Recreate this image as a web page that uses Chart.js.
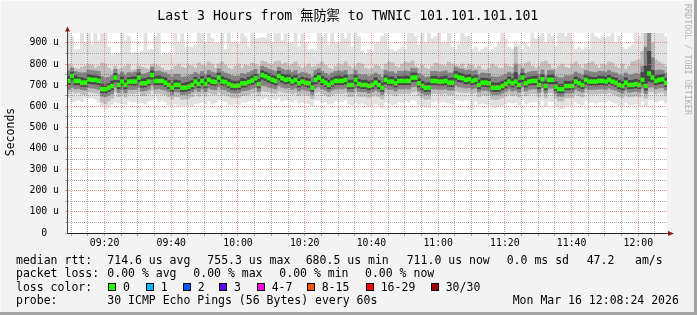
<!DOCTYPE html>
<html>
<head>
<meta charset="utf-8">
<title>SmokePing - Last 3 Hours</title>
<script src="https://cdn.jsdelivr.net/npm/chart.js@4.4.0/dist/chart.umd.min.js"></script>
<style>
  html, body { margin: 0; padding: 0; background: #f3f3f3; }
  canvas { display: block; }
</style>
</head>
<body>
<canvas id="smoke" width="697" height="315"></canvas>
<script>
// one bin per minute, 30 pings each, first bin starts 09:08:45
const firstMinute = 548.75;
const lastMinute = 728.6;

// median rtt per minute (us)
const medianRtt = [
  720,744,720,720,712,712,728,725,725,720, 681,681,688,696,736,701,717,701,717,717,
  717,736,709,709,717,748,720,720,720,712, 701,688,701,701,688,688,693,701,717,705,
  720,705,725,717,715,736,717,715,705,698, 696,698,709,709,715,722,733,705,748,742,
  733,725,720,744,733,725,728,717,725,709, 717,712,709,688,725,736,720,712,701,712,
  720,720,720,725,701,701,725,705,701,701, 696,701,712,701,688,725,717,717,709,720,
  720,720,720,736,736,709,696,688,688,720, 720,717,717,720,712,712,744,736,733,725,
  728,720,725,701,712,712,709,688,688,688, 696,705,717,709,717,701,736,709,717,720,
  720,701,728,696,725,725,693,681,681,696, 696,696,717,709,701,725,717,717,717,720,
  720,717,725,717,712,701,696,712,701,701, 705,701,725,696,755,736,720,725,728,711
];

// smoke: slowest / fastest ping per minute
const smokeMax = [
  947,930,867,870,947,900,947,890,947,910, 947,947,880,843,845,850,947,910,930,851,
  855,851,860,947,867,870,930,947,843,845, 850,843,947,900,947,880,883,880,890,947,
  947,900,947,920,898,900,947,870,947,905, 898,895,947,930,880,947,922,920,925,922,
  947,900,947,947,910,947,898,900,947,880, 947,900,867,870,865,947,930,947,890,947,
  898,900,947,920,947,880,947,930,860,850, 870,860,900,905,930,947,870,867,860,870,
  880,870,947,947,930,890,947,900,947,920, 930,947,900,900,947,880,870,890,947,930,
  930,870,880,860,870,880,860,870,880,900, 947,920,880,870,900,890,870,900,880,947,
  920,930,947,900,947,930,880,947,947,930, 947,910,870,880,867,880,870,947,930,920,
  930,925,930,947,900,930,880,870,880,890, 947,930,947,947,947,947,947,947,947,930
];
const smokeMin = [
  640,620,625,630,622,640,638,640,635,618, 600,585,595,610,620,615,612,608,625,620,
  622,615,618,610,625,630,640,622,628,620, 605,598,612,600,602,604,606,600,612,615,
  620,610,625,612,618,630,628,622,610,605, 612,608,618,620,625,628,630,622,635,640,
  632,636,630,640,625,630,628,620,632,615, 620,615,612,600,628,630,618,620,610,615,
  625,620,622,630,612,605,618,610,615,608, 598,605,612,605,592,620,615,608,610,622,
  618,625,620,630,628,610,600,596,595,620, 625,618,622,620,615,612,630,628,625,630,
  628,585,625,610,615,612,608,598,594,600, 605,612,620,615,618,606,630,612,618,620,
  622,605,628,600,625,622,598,592,588,602, 604,606,620,612,605,625,618,622,615,620,
  622,618,628,620,615,605,600,618,606,608, 612,605,625,600,630,632,620,625,628,615
];

// smoke: outer quarter of the pings
const smokeHigh = [
  800,790,780,775,785,790,800,795,780,790, 805,800,780,770,790,775,780,790,800,770,
  775,790,785,780,775,800,795,790,780,770, 770,775,790,800,785,780,795,790,780,805,
  795,790,810,800,780,800,810,795,780,775, 790,800,780,795,790,805,800,790,815,810,
  800,795,810,815,800,805,790,800,810,790, 780,790,800,785,790,800,810,795,780,775,
  790,800,795,810,790,780,790,805,800,780, 775,780,795,790,775,800,810,805,790,780,
  800,810,805,815,790,780,795,780,775,790, 805,800,795,790,810,800,795,790,800,780,
  800,795,780,790,775,770,780,800,790,780, 780,800,790,785,880,800,790,805,810,790,
  780,790,810,815,800,780,775,790,800,785, 780,800,810,795,780,800,805,810,795,780,
  800,795,810,805,790,780,800,775,790,810, 815,820,860,947,947,900,820,810,800,790
];
const smokeLow = [
  660,670,662,665,658,655,668,666,664,660, 620,612,625,638,668,645,658,644,660,658,
  660,668,650,652,660,675,660,662,658,655, 645,632,646,644,632,634,638,646,660,648,
  660,648,665,658,656,668,658,656,648,642, 640,642,650,652,656,662,668,650,672,670,
  668,664,660,672,668,664,666,658,664,650, 658,654,650,636,664,668,660,654,646,654,
  660,662,660,664,646,646,664,648,646,646, 640,646,654,646,634,664,658,658,650,660,
  660,662,660,668,670,650,640,632,634,660, 660,658,658,660,654,654,672,668,666,664,
  666,660,664,646,654,652,650,634,630,634, 640,648,658,650,654,644,668,650,658,660,
  660,644,666,640,664,664,638,625,624,640, 640,641,658,650,644,664,658,658,658,660,
  660,658,664,658,654,646,640,654,644,646, 648,644,664,638,668,670,660,664,666,654
];

// smoke: middle half of the pings
const innerHigh = [
  768,780,765,760,758,760,772,770,768,765, 740,735,738,745,775,750,762,748,760,758,
  762,775,752,755,760,785,765,768,762,758, 750,740,752,750,738,740,745,750,760,752,
  765,750,770,762,758,778,764,758,752,745, 742,745,755,752,760,768,775,752,790,784,
  776,770,765,785,776,770,772,762,770,755, 760,758,752,740,770,778,765,756,748,758,
  765,768,764,770,748,750,770,752,748,750, 742,748,758,748,738,770,762,764,755,766,
  765,768,765,780,778,755,745,738,740,765, 766,762,764,768,758,758,785,778,776,770,
  772,766,770,750,758,756,755,740,738,740, 745,752,762,755,800,748,778,756,762,765,
  766,750,772,745,770,770,742,735,735,745, 744,748,762,755,748,770,764,762,760,766,
  765,762,770,762,758,748,744,758,748,750, 755,752,790,880,947,830,770,772,770,758
];
const innerLow = [
  680,690,682,684,678,676,688,686,684,680, 648,645,652,660,690,665,678,664,680,679,
  680,690,672,674,680,700,682,684,680,676, 668,655,668,666,655,656,660,668,680,670,
  682,670,686,680,678,692,680,678,670,664, 662,664,672,674,678,684,690,670,698,696,
  690,686,682,698,690,686,688,680,686,672, 680,676,672,656,686,692,682,676,668,676,
  682,684,682,686,668,668,686,670,668,668, 662,668,676,668,656,686,680,680,672,682,
  682,684,682,692,694,672,662,655,656,682, 682,680,680,682,676,676,698,692,690,686,
  688,682,686,668,676,675,672,656,655,656, 662,670,680,672,676,666,692,672,680,682,
  682,666,688,662,686,686,660,648,647,662, 662,663,680,672,666,686,680,680,680,682,
  682,680,686,680,676,668,662,676,666,668, 670,666,686,660,690,692,682,686,688,676
];

// smoke: pings closest to the median
const coreHigh = [
  742,762,745,738,735,731,750,746,744,741, 705,702,708,720,756,722,740,722,736,739,
  740,758,730,732,738,768,741,744,739,735, 722,710,724,721,708,712,715,722,738,727,
  742,726,748,738,735,757,740,734,728,720, 718,720,732,728,738,744,752,728,768,762,
  755,746,742,765,752,748,749,740,746,731, 738,735,730,712,746,757,742,733,724,735,
  741,744,740,748,722,724,746,728,722,724, 718,722,735,723,710,746,739,740,730,742,
  741,744,742,758,757,731,718,710,712,741, 742,738,740,743,733,735,765,758,754,747,
  750,741,746,724,734,733,730,712,709,711, 718,727,739,730,760,722,757,732,738,741,
  743,723,749,720,746,748,716,704,705,719, 718,720,739,730,724,746,740,738,737,743,
  742,739,747,738,734,723,718,735,722,724, 728,724,760,790,860,770,745,748,750,733
];
const coreLow = [
  702,724,700,701,694,693,708,706,705,700, 664,662,670,678,716,683,698,683,700,699,
  698,716,690,692,699,728,701,702,701,694, 684,670,683,684,670,671,676,683,698,688,
  701,687,706,699,697,716,699,697,688,680, 678,680,690,691,697,703,713,687,728,722,
  714,707,701,724,714,706,709,699,706,691, 699,694,690,671,706,716,702,694,683,694,
  701,702,701,706,683,684,706,687,683,684, 678,683,694,683,671,706,699,698,691,701,
  701,702,701,716,717,691,678,670,671,701, 701,699,698,701,694,693,724,716,714,706,
  709,701,706,683,694,693,691,671,670,671, 678,687,699,691,698,683,716,691,698,701,
  701,683,709,678,706,706,676,664,663,678, 678,679,698,691,683,706,698,699,698,701,
  701,698,706,699,694,683,678,694,683,684, 687,683,705,676,718,715,701,706,708,693
];

const timeLabels = ['09:20', '09:40', '10:00', '10:20', '10:40', '11:00', '11:20', '11:40', '12:00'];
const yTickLabels = ['0  ', '100 u', '200 u', '300 u', '400 u', '500 u', '600 u', '700 u', '800 u', '900 u'];

const lossLabels = ['0', '1', '2', '3', '4-7', '8-15', '16-29', '30/30'];
const lossColors = ['#26ff00', '#00b8ff', '#0059ff', '#5e00ff', '#ff00e7', '#ff5500', '#ff0000', '#a10000'];

const rttStats = ['714.6 us avg', '755.3 us max', '680.5 us min', '711.0 us now', '0.0 ms sd', '47.2', 'am/s'];
const lossStats = ['0.00 % avg', '0.00 % max', '0.00 % min', '0.00 % now'];
const probeText = '30 ICMP Echo Pings (56 Bytes) every 60s';
const stampText = 'Mon Mar 16 12:08:24 2026';
const titleText = 'Last 3 Hours from 無防禦 to TWNIC 101.101.101.101';

const MONO = '"DejaVu Sans Mono", "Noto Sans CJK TC", monospace';
const medianHalf = 9; // thickness of the median mark, in us
const majorGrid = 'rgba(235,110,110,0.7)';
const minorGrid = 'rgba(90,90,90,0.5)';

function minuteOf(i) {
  return firstMinute + i + 0.5;
}

function band(lo, hi) {
  return lo.map((v, i) => ({ x: minuteOf(i), y: [v, hi[i]] }));
}

function hhmm(v) {
  const h = Math.floor(v / 60), m = Math.round(v % 60);
  return String(h).padStart(2, '0') + ':' + String(m).padStart(2, '0');
}

// grid every 5 minutes / every 50 us
function everyStep(scale, step) {
  const ticks = [];
  for (let v = Math.ceil(scale.min / step) * step; v <= scale.max; v += step) {
    if (v > scale.min) ticks.push({ value: v });
  }
  if (scale.axis === 'y') ticks.unshift({ value: 0 });
  scale.ticks = ticks;
}

function gridColor(major) {
  return (c) => {
    const v = c.tick ? c.tick.value : NaN;
    return Math.abs(v % major) < 1e-6 ? majorGrid : minorGrid;
  };
}

const barDefaults = { grouped: false, barPercentage: 1, categoryPercentage: 1, borderWidth: 0 };

const rrdDecor = {
  id: 'rrdDecor',
  beforeDraw(chart) {
    const { ctx, chartArea: a } = chart;
    ctx.save();
    ctx.fillStyle = '#f3f3f3';
    ctx.fillRect(0, 0, chart.width, chart.height);
    ctx.fillStyle = '#ffffff';
    ctx.fillRect(a.left, a.top, a.right - a.left, a.bottom - a.top);
    ctx.restore();
  },
  afterDraw(chart) {
    const { ctx, chartArea: a } = chart;
    ctx.save();

    // axis extensions and arrows
    ctx.strokeStyle = '#444';
    ctx.lineWidth = 1;
    ctx.beginPath();
    ctx.moveTo(a.left + 0.5, a.top + 1);
    ctx.lineTo(a.left + 0.5, a.top - 3);
    ctx.moveTo(a.right - 1, a.bottom + 0.5);
    ctx.lineTo(a.right + 2, a.bottom + 0.5);
    ctx.stroke();
    ctx.fillStyle = '#8b1c1c';
    ctx.beginPath();
    ctx.moveTo(a.left - 2, a.top - 1.5);
    ctx.lineTo(a.left + 3, a.top - 1.5);
    ctx.lineTo(a.left + 0.5, a.top - 6.5);
    ctx.closePath();
    ctx.fill();
    ctx.beginPath();
    ctx.moveTo(a.right + 1, a.bottom - 2);
    ctx.lineTo(a.right + 1, a.bottom + 3);
    ctx.lineTo(a.right + 7, a.bottom + 0.5);
    ctx.closePath();
    ctx.fill();

    // title
    ctx.fillStyle = '#000';
    ctx.textBaseline = 'alphabetic';
    ctx.textAlign = 'left';
    ctx.font = '13.2px ' + MONO;
    ctx.fillText(titleText, 157.3, 19.5);

    // vertical axis label
    ctx.save();
    ctx.translate(11.5, 132);
    ctx.rotate(-Math.PI / 2);
    ctx.textAlign = 'center';
    ctx.textBaseline = 'middle';
    ctx.font = '11.5px ' + MONO;
    ctx.fillText('Seconds', 0, 0);
    ctx.restore();

    // rrdtool credit on the right edge
    ctx.save();
    ctx.translate(687.5, 4);
    ctx.rotate(Math.PI / 2);
    ctx.textAlign = 'left';
    ctx.textBaseline = 'middle';
    ctx.fillStyle = '#b4b4b4';
    ctx.font = '8.4px ' + MONO;
    ctx.fillText('RRDTOOL / TOBI OETIKER', 0, 0);
    ctx.restore();

    // legend lines
    ctx.font = '11.5px ' + MONO;
    ctx.fillStyle = '#000';
    const rttX = [107.3, 207.3, 305.7, 406.7, 506.7, 586.7, 635];
    ctx.fillText('median rtt:', 16, 263.5);
    rttStats.forEach((t, i) => ctx.fillText(t, rttX[i], 263.5));
    const lossX = [107.3, 193.3, 279.3, 365];
    ctx.fillText('packet loss:', 16, 277);
    lossStats.forEach((t, i) => ctx.fillText(t, lossX[i], 277));
    ctx.fillText('loss color:', 16, 290.5);
    const boxX = [108, 145.7, 182.7, 219, 256.7, 306.7, 365.7, 430.7];
    lossLabels.forEach((t, i) => {
      ctx.fillStyle = lossColors[i];
      ctx.fillRect(Math.round(boxX[i]), 283, 8, 8);
      ctx.strokeStyle = '#000';
      ctx.strokeRect(Math.round(boxX[i]) + 0.5, 283.5, 7, 7);
      ctx.fillStyle = '#000';
      ctx.fillText(t, boxX[i] + 15, 290.5);
    });
    ctx.fillText('probe:', 16, 304);
    ctx.fillText(probeText, 107.3, 304);
    ctx.fillText(stampText, 512.7, 304);

    // frame
    ctx.fillStyle = '#a3a3a3';
    ctx.fillRect(chart.width - 3, 0, 3, chart.height);
    ctx.fillRect(0, chart.height - 3, chart.width, 3);
    ctx.fillStyle = '#fbfbfb';
    ctx.fillRect(0, 0, chart.width - 3, 1);
    ctx.fillRect(0, 0, 1, chart.height - 3);
    ctx.restore();
  }
};

new Chart(document.getElementById('smoke'), {
  type: 'bar',
  data: {
    datasets: [
      { ...barDefaults, label: 'smoke outer', data: band(smokeMin, smokeMax), backgroundColor: '#e2e2e2', order: 5 },
      { ...barDefaults, label: 'smoke mid', data: band(smokeLow, smokeHigh), backgroundColor: '#bebebe', order: 4 },
      { ...barDefaults, label: 'smoke inner', data: band(innerLow, innerHigh), backgroundColor: '#848484', order: 3 },
      { ...barDefaults, label: 'smoke core', data: band(coreLow, coreHigh), backgroundColor: '#474747', order: 2 },
      {
        ...barDefaults,
        label: 'median rtt',
        data: medianRtt.map((v, i) => ({ x: minuteOf(i), y: [v - medianHalf, v + medianHalf] })),
        backgroundColor: lossColors[0],
        order: 1
      }
    ]
  },
  options: {
    responsive: false,
    animation: false,
    devicePixelRatio: 1,
    layout: { padding: { left: 0, top: 33, right: 30, bottom: 0 } },
    plugins: { legend: { display: false }, tooltip: { enabled: false }, title: { display: false } },
    scales: {
      x: {
        type: 'linear',
        min: firstMinute,
        max: lastMinute,
        offset: false,
        afterBuildTicks: (s) => everyStep(s, 5),
        afterFit: (s) => { s.height = 82; },
        grid: {
          offset: false,
          z: 1,
          lineWidth: 1,
          color: gridColor(20),
          tickColor: gridColor(20),
          tickLength: 3
        },
        border: { color: '#222', width: 1, dash: [1, 1], z: 2 },
        ticks: {
          autoSkip: false,
          maxRotation: 0,
          padding: 2,
          color: '#000',
          font: { family: MONO, size: 9.8 },
          callback: (v) => (timeLabels.includes(hhmm(v)) ? hhmm(v) : '')
        }
      },
      y: {
        min: 0,
        max: 947,
        afterBuildTicks: (s) => everyStep(s, 50),
        afterFit: (s) => { s.width = 67; },
        grid: {
          z: 1,
          lineWidth: 1,
          color: gridColor(100),
          tickColor: gridColor(100),
          tickLength: 2
        },
        border: { color: '#444', width: 1, dash: [1, 1], z: 2 },
        ticks: {
          autoSkip: false,
          padding: 6,
          color: '#000',
          font: { family: MONO, size: 9.8 },
          callback: (v) => (v % 100 === 0 ? yTickLabels[v / 100] : '')
        }
      }
    }
  },
  plugins: [rrdDecor]
});
</script>
</body>
</html>
